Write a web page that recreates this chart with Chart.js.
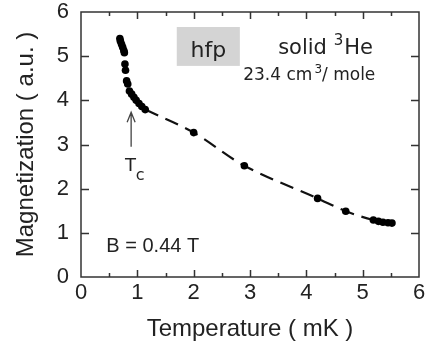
<!DOCTYPE html>
<html><head><meta charset="utf-8">
<script src="https://cdn.jsdelivr.net/npm/chart.js@4/dist/chart.umd.min.js"></script>
<style>html,body{margin:0;padding:0;background:#fff}#w{width:428px;height:345px;position:relative}</style>
</head><body><div id="w"><canvas id="c"></canvas></div>
<script>
// data
const temperature = [0.69,0.70,0.72,0.74,0.76,0.77,0.78,0.79,0.81,0.83,0.86,0.90,0.94,0.98,1.03,1.08,1.14,2.0,2.9,4.2,4.7,5.19,5.28,5.36,5.45,5.52];
const magnetization = [5.40,5.34,5.27,5.20,5.13,5.08,4.82,4.68,4.44,4.37,4.21,4.14,4.07,4.00,3.93,3.86,3.79,3.27,2.52,1.78,1.49,1.29,1.26,1.24,1.23,1.22];
// dashed guide curve through the ordered-phase points
const fitT = [1.14,2.0,2.9,4.2,4.7,5.19,5.52];
const fitM = [3.79,3.27,2.52,1.78,1.49,1.29,1.22];
const xTicks = [0,1,2,3,4,5,6];
const yTicks = [0,1,2,3,4,5,6];

const INK = '#222';
const frame = {
  id:'frame',
  afterDraw(chart){
    const {ctx, chartArea:a, scales:{x,y}} = chart;
    ctx.save();
    ctx.strokeStyle = '#333'; ctx.lineWidth = 1.5;
    ctx.strokeRect(a.left, a.top, a.right-a.left, a.bottom-a.top);
    ctx.beginPath();
    for (let v=0.5; v<6; v+=0.5){
      const px = Math.round(x.getPixelForValue(v))+0.5;
      const L = Number.isInteger(v) ? 7 : 4;
      ctx.moveTo(px,a.bottom); ctx.lineTo(px,a.bottom-L);
      ctx.moveTo(px,a.top); ctx.lineTo(px,a.top+L);
    }
    for (let v=1; v<6; v++){
      const py = Math.round(y.getPixelForValue(v))+0.5;
      ctx.moveTo(a.left,py); ctx.lineTo(a.left+8,py);
      ctx.moveTo(a.right,py); ctx.lineTo(a.right-8,py);
    }
    ctx.stroke();

    // annotations placed in data units
    const X = v=>x.getPixelForValue(v), Y = v=>y.getPixelForValue(v);
    ctx.fillStyle = '#d4d4d4';
    ctx.fillRect(X(1.70), Y(5.66), X(2.82)-X(1.70), Y(4.78)-Y(5.66));
    ctx.fillStyle = INK;
    ctx.textBaseline = 'alphabetic';
    ctx.textAlign = 'center';
    ctx.font = '22px "DejaVu Sans"';
    ctx.fillText('hfp', X(2.26), Y(4.99));
    ctx.textAlign = 'left';
    ctx.font = '21px "DejaVu Sans"';
    let sx = X(3.5), sy = Y(5.04);
    ctx.fillText('solid ', sx, sy); sx += ctx.measureText('solid ').width;
    ctx.font = '15px "DejaVu Sans"';
    ctx.fillText('3', sx, sy-9); sx += ctx.measureText('3').width+1;
    ctx.font = '21px "DejaVu Sans"';
    ctx.fillText('He', sx, sy);
    ctx.font = '17px "DejaVu Sans"';
    sx = X(2.88); sy = Y(4.46);
    ctx.fillText('23.4 cm', sx, sy); sx += ctx.measureText('23.4 cm').width+2;
    ctx.font = '12px "DejaVu Sans"';
    ctx.fillText('3', sx, sy-7); sx += ctx.measureText('3').width;
    ctx.font = '17px "DejaVu Sans"';
    ctx.fillText('/ mole', sx, sy);
    ctx.font = '20px "Liberation Sans"';
    ctx.fillText('B = 0.44 T', X(0.45), Y(0.57));
    ctx.font = '18px "DejaVu Sans"';
    ctx.fillText('T', X(0.78), Y(2.40));
    ctx.font = '16px "DejaVu Sans"';
    ctx.fillText('c', X(0.97), Y(2.20));
    // arrow
    ctx.strokeStyle = '#444'; ctx.lineWidth = 1.3;
    const ax = X(0.89), ay0 = Y(2.95), ay1 = Y(3.73);
    ctx.beginPath();
    ctx.moveTo(ax, ay0); ctx.lineTo(ax, ay1);
    ctx.moveTo(ax-4, ay1+10); ctx.lineTo(ax, ay1); ctx.lineTo(ax+4, ay1+10);
    ctx.stroke();
    ctx.restore();
  }
};

new Chart(document.getElementById('c'), {
  type:'scatter',
  data:{datasets:[
    {data: fitT.map((t,i)=>({x:t,y:fitM[i]})), showLine:true, borderColor:'#111', borderWidth:2.2,
     borderDash:[14,8], tension:0.35, pointRadius:0, order:2},
    {data: temperature.map((t,i)=>({x:t,y:magnetization[i]})), backgroundColor:'#000', borderColor:'#000',
     pointRadius:3.8, pointBorderWidth:0, order:1}
  ]},
  plugins:[frame],
  options:{
    responsive:true, maintainAspectRatio:false, animation:false,
    layout:{padding:{top:12,right:9,left:0,bottom:0}},
    plugins:{legend:{display:false}, tooltip:{enabled:false}},
    scales:{
      x:{type:'linear', min:0, max:6,
        afterBuildTicks(s){ s.ticks = xTicks.map(v=>({value:v})); },
        afterFit(s){ s.height = 68; s.paddingLeft = 0; s.paddingRight = 0; },
        grid:{display:false, drawTicks:false}, border:{display:false},
        ticks:{color:INK, padding:3, font:{family:'Liberation Sans', size:22}},
        title:{display:true, text:'Temperature ( mK )', color:INK, font:{family:'Liberation Sans', size:24}, padding:{top:0,bottom:1}}
      },
      y:{type:'linear', min:0, max:6,
        afterBuildTicks(s){ s.ticks = yTicks.map(v=>({value:v})); },
        afterFit(s){ s.width = 81; s.paddingTop = 0; s.paddingBottom = 0; },
        grid:{display:false, drawTicks:false}, border:{display:false},
        ticks:{color:INK, padding:12, font:{family:'Liberation Sans', size:22}},
        title:{display:true, text:'Magnetization ( a.u. )', color:INK, font:{family:'Liberation Sans', size:24}, padding:{top:12,bottom:0}}
      }
    }
  }
});
</script></body></html>
